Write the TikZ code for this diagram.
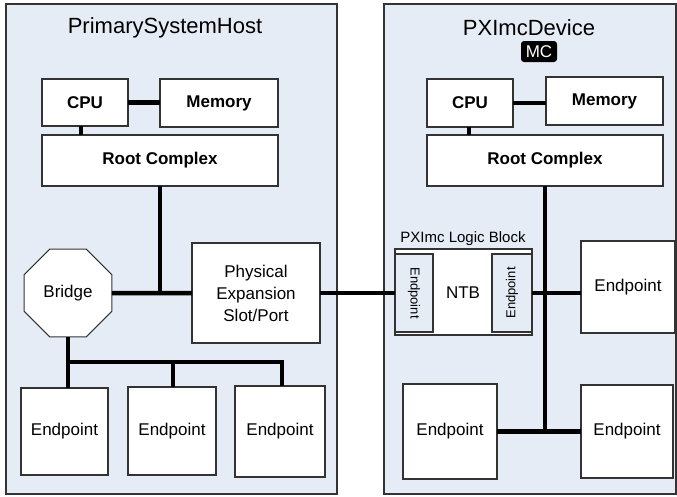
\documentclass[tikz,border=0pt]{standalone}
\usepackage{fontspec}
\setmainfont{Liberation Sans}
\usetikzlibrary{shapes.geometric}
\definecolor{panel}{HTML}{E6ECF6}
\definecolor{edge}{HTML}{333333}
\tikzset{
  container/.style={draw=edge, line width=1.3pt, fill=panel, anchor=north west, inner sep=0pt, outer sep=0pt},
  box/.style={draw=edge, line width=1.1pt, fill=white, inner sep=0pt, outer sep=0pt, align=center,
              font=\fontsize{17}{22}\selectfont},
  boldbox/.style={box, font=\fontsize{17}{22}\selectfont\bfseries},
  innerep/.style={draw=edge, line width=1.1pt, fill=panel, inner sep=0pt, outer sep=0pt},
  bus/.style={line width=4.5pt, draw=black},
  title/.style={font=\fontsize{22}{25}\selectfont, inner sep=0pt},
}
\begin{document}
\begin{tikzpicture}[x=1pt, y=-1pt]
\useasboundingbox (0,0) rectangle (677,496);
% containers
\node[container, minimum width=331pt, minimum height=490pt] (hostL) at (6,4) {};
\node[container, minimum width=292pt, minimum height=490pt] (hostR) at (384,4) {};
\node[title] (titleL) at (165,28) {PrimarySystemHost};
\node[title] (titleR) at (529,28) {PXImcDevice};
\node[fill=black, rounded corners=3pt, minimum width=36pt, minimum height=21pt, inner sep=0pt,
      text=white, font=\fontsize{17}{19}\selectfont] (mc) at (539,51.5) {MC};
% left side nodes
\node[boldbox, minimum width=86pt, minimum height=47pt] (cpuL) at (85,102.5) {CPU};
\node[boldbox, minimum width=118pt, minimum height=48pt] (memL) at (219,103) {Memory};
\node[boldbox, minimum width=236pt, minimum height=51pt] (rcL) at (160,160.5) {Root Complex};
\node[box, regular polygon, regular polygon sides=8, minimum size=95pt] (bridge) at (68,293) {Bridge};
\node[box, minimum width=128pt, minimum height=100pt] (phys) at (256,293) {Physical\\Expansion\\Slot/Port};
\node[box, minimum width=87pt, minimum height=87pt] (E1) at (64.5,431.5) {Endpoint};
\node[box, minimum width=88pt, minimum height=88pt] (E2) at (172,431) {Endpoint};
\node[box, minimum width=90pt, minimum height=91pt] (E3) at (280,431.5) {Endpoint};
% right side nodes
\node[boldbox, minimum width=86pt, minimum height=48pt] (cpuR) at (470,103) {CPU};
\node[boldbox, minimum width=117pt, minimum height=48pt] (memR) at (604.5,101) {Memory};
\node[boldbox, minimum width=236pt, minimum height=51pt] (rcR) at (545,160.5) {Root Complex};
\node[font=\fontsize{15}{17}\selectfont, inner sep=0pt] (logicLabel) at (463,239) {PXImc Logic Block};
\node[box, minimum width=137pt, minimum height=86pt] (logic) at (463.5,292) {};
\node[innerep, minimum width=38pt, minimum height=78pt] (epin1) at (414,293) {};
\node[innerep, minimum width=40pt, minimum height=78pt] (epin2) at (512,293) {};
\node[rotate=-90, font=\fontsize{13}{15}\selectfont, inner sep=0pt] (epin1t) at (epin1.center) {Endpoint};
\node[rotate=90, font=\fontsize{13}{15}\selectfont, inner sep=0pt] (epin2t) at (epin2.center) {Endpoint};
\node[font=\fontsize{17}{20}\selectfont, inner sep=0pt] (ntb) at (463,293) {NTB};
\node[box, minimum width=94pt, minimum height=92pt] (EpR1) at (628,287) {Endpoint};
\node[box, minimum width=94pt, minimum height=95pt] (EpR2) at (450,431.5) {Endpoint};
\node[box, minimum width=92pt, minimum height=93pt] (EpR3) at (627,431.5) {Endpoint};
% left connectors
\draw[bus] (cpuL.east) -- (cpuL.east -| memL.west);
\draw[bus] ([xshift=-4pt]cpuL.south) -- ([xshift=-4pt]cpuL.south |- rcL.north);
\draw[bus] (bridge.east) -- (phys.west);
\draw[bus] (rcL.south) -- (rcL.south |- phys.west);
\draw[bus] (bridge.south) -- (bridge.south |- E1.north);
\coordinate (busL) at (68,362);
\draw[bus] (busL) -| ([xshift=2pt]E3.north);
\draw[bus] ([xshift=1pt]E2.north) -- ([xshift=1pt]E2.north |- busL);
% right connectors
\draw[bus] (cpuR.east) -- (cpuR.east -| memR.west);
\draw[bus] ([xshift=-1pt]cpuR.south) -- ([xshift=-1pt]cpuR.south |- rcR.north);
\draw[bus] (phys.east) -- (phys.east -| logic.west);
\draw[bus] (epin2.east) -- (epin2.east -| EpR1.west);
\draw[bus] (rcR.south) -- (rcR.south |- EpR2.east);
\draw[bus] (EpR2.east) -- (EpR3.west);
\end{tikzpicture}
\end{document}
